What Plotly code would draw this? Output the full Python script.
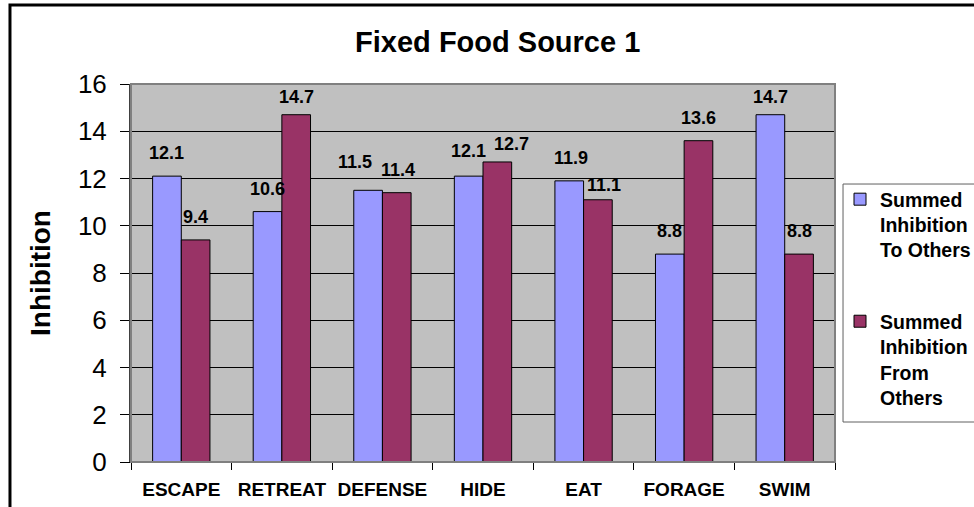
import plotly.graph_objects as go

categories = ["ESCAPE", "RETREAT", "DEFENSE", "HIDE", "EAT", "FORAGE", "SWIM"]
to_others = [12.1, 10.6, 11.5, 12.1, 11.9, 8.8, 14.7]
from_others = [9.4, 14.7, 11.4, 12.7, 11.1, 13.6, 8.8]
series_names = ["Summed<br>Inhibition<br>To Others", "Summed<br>Inhibition<br>From<br>Others"]
colors = ["#9999FF", "#993366"]
title_text = "Fixed Food Source 1"
y_title = "Inhibition"
y_ticks = [0, 2, 4, 6, 8, 10, 12, 14, 16]

# small pixel nudges of the value labels (as in the original, to avoid collisions)
nudge_to = [(0, 0), (0, 0), (-13, 5), (0, 2), (2, 0), (0, 0), (0, -5)]
nudge_from = [(0, 0), (0, -5), (1, 0), (14, -5), (6, -8), (0, 0), (0, 0)]

FONT = "Liberation Sans, Arial, sans-serif"
BARGAP = 0.43
LABEL_GAP = 11

fig = go.Figure()
for i, (vals, name) in enumerate(zip([to_others, from_others], series_names)):
    fig.add_trace(go.Bar(
        x=categories, y=vals, name=name,
        marker=dict(color=colors[i], line=dict(color="black", width=1)),
        legendgroup=f"g{i}",
        hoverinfo="x+y",
    ))

annotations = []
half = (1 - BARGAP) / 4
for s, (vals, nudges) in enumerate([(to_others, nudge_to), (from_others, nudge_from)]):
    off = -half if s == 0 else half
    for k, v in enumerate(vals):
        dx, dy = nudges[k]
        annotations.append(dict(
            x=k + off, y=v, xref="x", yref="y", text=f"{v:.1f}", showarrow=False,
            xanchor="center", yanchor="bottom", xshift=dx, yshift=LABEL_GAP + dy,
            font=dict(family=FONT, size=18, color="black", weight="bold"),
        ))

fig.update_layout(
    width=974, height=507, autosize=False,
    margin=dict(l=131, r=139, t=84, b=45),
    paper_bgcolor="white", plot_bgcolor="#C0C0C0",
    barmode="group", bargap=BARGAP, bargroupgap=0,
    font=dict(family=FONT, color="black"),
    title=dict(text=title_text, x=0.511, xanchor="center", y=1 - 42 / 507, yanchor="middle",
               yref="container", font=dict(family=FONT, size=29, color="black", weight="bold")),
    showlegend=True,
    legend=dict(xref="container", yref="container", x=840 / 974, xanchor="left",
                y=1 - 180 / 507, yanchor="top", valign="top",
                bgcolor="rgba(0,0,0,0)", borderwidth=0, tracegroupgap=43,
                font=dict(family=FONT, size=19.5, color="black", weight="bold")),
    xaxis=dict(type="category", showline=True, linecolor="black", linewidth=1,
               ticks="outside", tickson="boundaries", ticklen=7, tickcolor="black",
               ticklabelstandoff=10, tickangle=0, automargin=False,
               tickfont=dict(family=FONT, size=19, color="black", weight="bold"),
               showgrid=False),
    yaxis=dict(range=[0, 16], tickvals=y_ticks, showgrid=True, gridcolor="black", gridwidth=1,
               zeroline=False, showline=True, linecolor="#404040", linewidth=2,
               ticks="outside", ticklen=9, tickcolor="black", ticklabelstandoff=8,
               automargin=False,
               tickfont=dict(family=FONT, size=26, color="black"),
               title=dict(text=y_title, standoff=19,
                          font=dict(family=FONT, size=28, color="black", weight="bold"))),
    annotations=annotations,
    shapes=[
        dict(type="rect", xref="paper", yref="paper", x0=0, x1=1, y0=0, y1=1,
             line=dict(color="#808080", width=2), layer="above"),
        dict(type="rect", xref="paper", yref="paper", x0=1.0114, x1=1.23, y0=0.1058, y1=0.7354,
             line=dict(color="#606060", width=1), fillcolor="rgba(0,0,0,0)"),
        dict(type="rect", xref="paper", yref="paper", x0=-0.1719, x1=1.25, y0=-0.2, y1=1.209,
             line=dict(color="black", width=3), fillcolor="rgba(0,0,0,0)"),
    ],
)

fig.write_html(
    "out.html",
    config={"displayModeBar": False, "responsive": False},
    post_script="document.body.style.margin='0';",
)
